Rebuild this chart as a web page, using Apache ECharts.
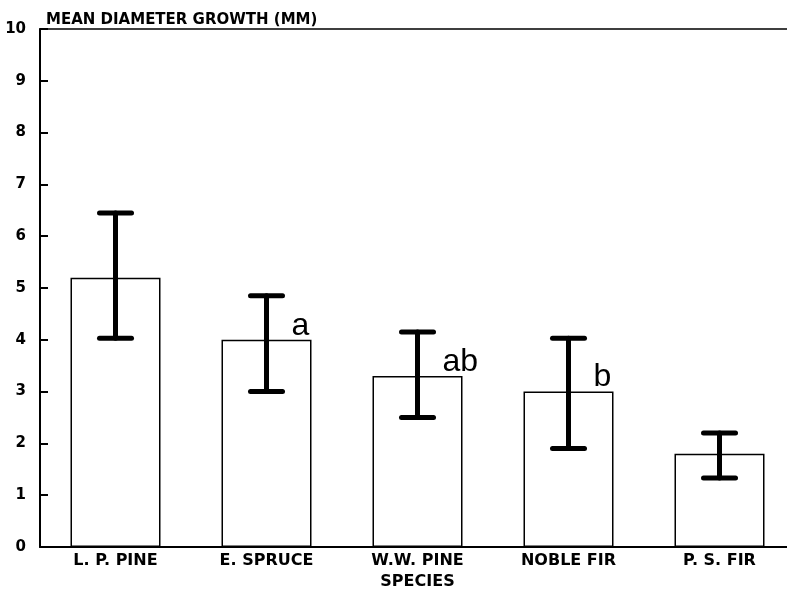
<!DOCTYPE html>
<html>
<head>
<meta charset="utf-8">
<script src="https://cdn.jsdelivr.net/npm/echarts@6/dist/echarts.min.js"></script>
<style>
    html, body { margin: 0; padding: 0; background: #fff; }
    #chart { width: 787px; height: 589px; }
</style>
</head>
<body>
<div id="chart"></div>
<script>
// species on the x axis
const species = ['L. P. PINE', 'E. SPRUCE', 'W.W. PINE', 'NOBLE FIR', 'P. S. FIR'];
// mean diameter growth (mm)
const meanGrowth = [5.2, 4.0, 3.3, 3.0, 1.8];
// error bar ends
const errLow = [4.03, 3.0, 2.5, 1.9, 1.33];
const errHigh = [6.45, 4.85, 4.15, 4.03, 2.2];
// significance letters
const letters = ['', 'a', 'ab', 'b', ''];
// y axis ticks
const yTicks = [0, 1, 2, 3, 4, 5, 6, 7, 8, 9, 10];

const FONT = '"DejaVu Sans", sans-serif';

// build error bar items [index, low, high]
const errData = species.map((_, i) => [i, errLow[i], errHigh[i]]);

function renderErrorBar(params, api) {
    const idx = api.value(0);
    const lo = api.coord([idx, api.value(1)]);
    const hi = api.coord([idx, api.value(2)]);
    const half = 16;
    const style = { stroke: '#000', lineWidth: 5, lineCap: 'round' };
    return {
        type: 'group',
        children: [
            { type: 'line', shape: { x1: lo[0], y1: lo[1], x2: hi[0], y2: hi[1] }, style: style },
            { type: 'line', shape: { x1: hi[0] - half, y1: hi[1], x2: hi[0] + half, y2: hi[1] }, style: style },
            { type: 'line', shape: { x1: lo[0] - half, y1: lo[1], x2: lo[0] + half, y2: lo[1] }, style: style }
        ]
    };
}

const chart = echarts.init(document.getElementById('chart'));
chart.setOption({
    animation: false,
    backgroundColor: '#fff',
    title: {
        text: 'MEAN DIAMETER GROWTH (MM)',
        left: 41,
        top: 8,
        textStyle: { fontFamily: FONT, fontWeight: 'bold', fontSize: 15, color: '#000' }
    },
    grid: { left: 40, top: 29, width: 755, height: 518, outerBoundsMode: 'none' },
    xAxis: [
        {
            type: 'category',
            data: species,
            name: 'SPECIES',
            nameLocation: 'middle',
            nameGap: 24,
            nameTextStyle: { fontFamily: FONT, fontWeight: 'bold', fontSize: 16, color: '#000' },
            axisLine: { lineStyle: { color: '#000', width: 2 } },
            axisTick: { show: false },
            axisLabel: { margin: 6, fontFamily: FONT, fontWeight: 'bold', fontSize: 16, color: '#000' }
        },
        {
            type: 'category',
            position: 'top',
            data: species,
            axisLine: { lineStyle: { color: '#000', width: 1.5 } },
            axisTick: { show: false },
            axisLabel: { show: false }
        }
    ],
    yAxis: {
        type: 'value',
        min: yTicks[0],
        max: yTicks[yTicks.length - 1],
        interval: 1,
        splitLine: { show: false },
        axisLine: { show: true, lineStyle: { color: '#000', width: 2 } },
        axisTick: { show: true, inside: true, length: 8, lineStyle: { color: '#000', width: 2 } },
        axisLabel: { margin: 14, fontFamily: FONT, fontWeight: 'bold', fontSize: 15, color: '#000' }
    },
    series: [
        {
            type: 'bar',
            data: meanGrowth,
            barWidth: 90,
            itemStyle: { color: '#fff', borderColor: '#000', borderWidth: 1.5 },
            label: {
                show: true,
                position: [70, 2],
                align: 'left',
                verticalAlign: 'bottom',
                formatter: p => letters[p.dataIndex],
                fontFamily: '"Liberation Sans", Arial, sans-serif',
                fontSize: 32,
                color: '#000'
            }
        },
        {
            type: 'custom',
            data: errData,
            renderItem: renderErrorBar,
            encode: { x: 0, y: [1, 2] },
            z: 5
        }
    ]
});
</script>
</body>
</html>
